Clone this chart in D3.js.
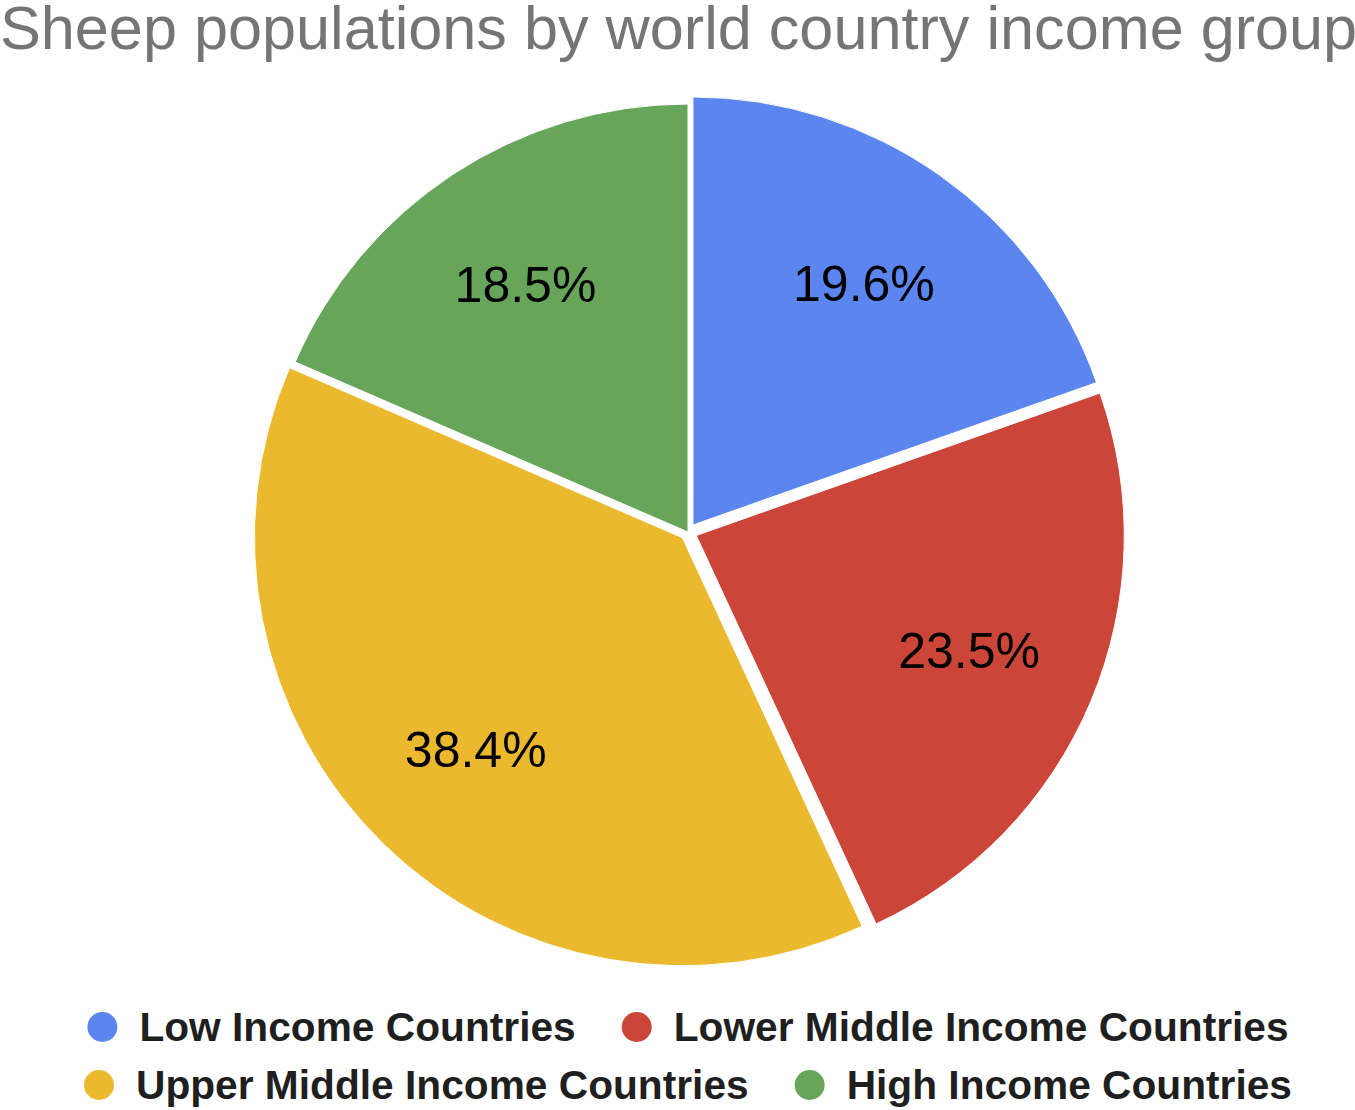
<!DOCTYPE html>
<html><head><meta charset="utf-8">
<script src="https://cdn.jsdelivr.net/npm/d3@7"></script>
<style>html,body{margin:0;padding:0;background:#fff;}svg{display:block;}</style>
</head><body>
<svg id="chart" width="1355" height="1110"></svg>
<script>
const categories = ["Low Income Countries", "Lower Middle Income Countries", "Upper Middle Income Countries", "High Income Countries"];
const values = [19.6, 23.5, 38.4, 18.5];
const labels = ["19.6%", "23.5%", "38.4%", "18.5%"];
const colors = ["#5b86f0", "#cb4539", "#ebb92e", "#67a65a"];
const explode = [8.6, 9, 8, 0];

const svg = d3.select("#chart");
const W = 1355, cx = 688, cy = 532, R = 428;
const font = "Liberation Sans, Arial, sans-serif";

svg.append("text").attr("x", 0).attr("y", 49)
  .attr("font-family", font).attr("font-size", 61.2).attr("fill", "#757575")
  .text("Sheep populations by world country income group");

const pie = d3.pie().sort(null).value(d => d)(values);
const arc = d3.arc().innerRadius(0).outerRadius(R);
const labelArc = d3.arc().innerRadius(296).outerRadius(296);

const g = svg.append("g").attr("transform", `translate(${cx},${cy})`);
const slices = g.selectAll("g.slice").data(pie).enter().append("g")
  .attr("transform", (d, i) => {
    const a = (d.startAngle + d.endAngle) / 2;
    return `translate(${explode[i] * Math.sin(a)},${-explode[i] * Math.cos(a)})`;
  });
slices.append("path").attr("d", arc).attr("fill", (d, i) => colors[i])
  .attr("stroke", "#fff").attr("stroke-width", 1);
slices.append("text")
  .attr("transform", d => `translate(${labelArc.centroid(d)})`)
  .attr("text-anchor", "middle").attr("dy", "0.35em")
  .attr("font-family", font).attr("font-size", 50).attr("fill", "#000")
  .text((d, i) => labels[i]);

// legend
const rows = [[0, 1], [2, 3]];
const rowY = [1027, 1085];
const lg = svg.append("g");
rows.forEach((row, ri) => {
  const items = row.map(i => {
    const t = lg.append("text").attr("font-family", font).attr("font-weight", "bold")
      .attr("font-size", 40.7).attr("fill", "#1f1f1f").attr("dy", "0.35em").text(categories[i]);
    return {i, t, w: t.node().getComputedTextLength()};
  });
  const gap = 46, cr = 15, pad = 22;
  const total = items.reduce((s, it) => s + 2 * cr + pad + it.w, 0) + gap * (items.length - 1);
  let x = cx - total / 2;
  items.forEach(it => {
    lg.append("circle").attr("cx", x + cr).attr("cy", rowY[ri]).attr("r", cr).attr("fill", colors[it.i]);
    it.t.attr("x", x + 2 * cr + pad).attr("y", rowY[ri]);
    x += 2 * cr + pad + it.w + gap;
  });
});
</script>
</body></html>
